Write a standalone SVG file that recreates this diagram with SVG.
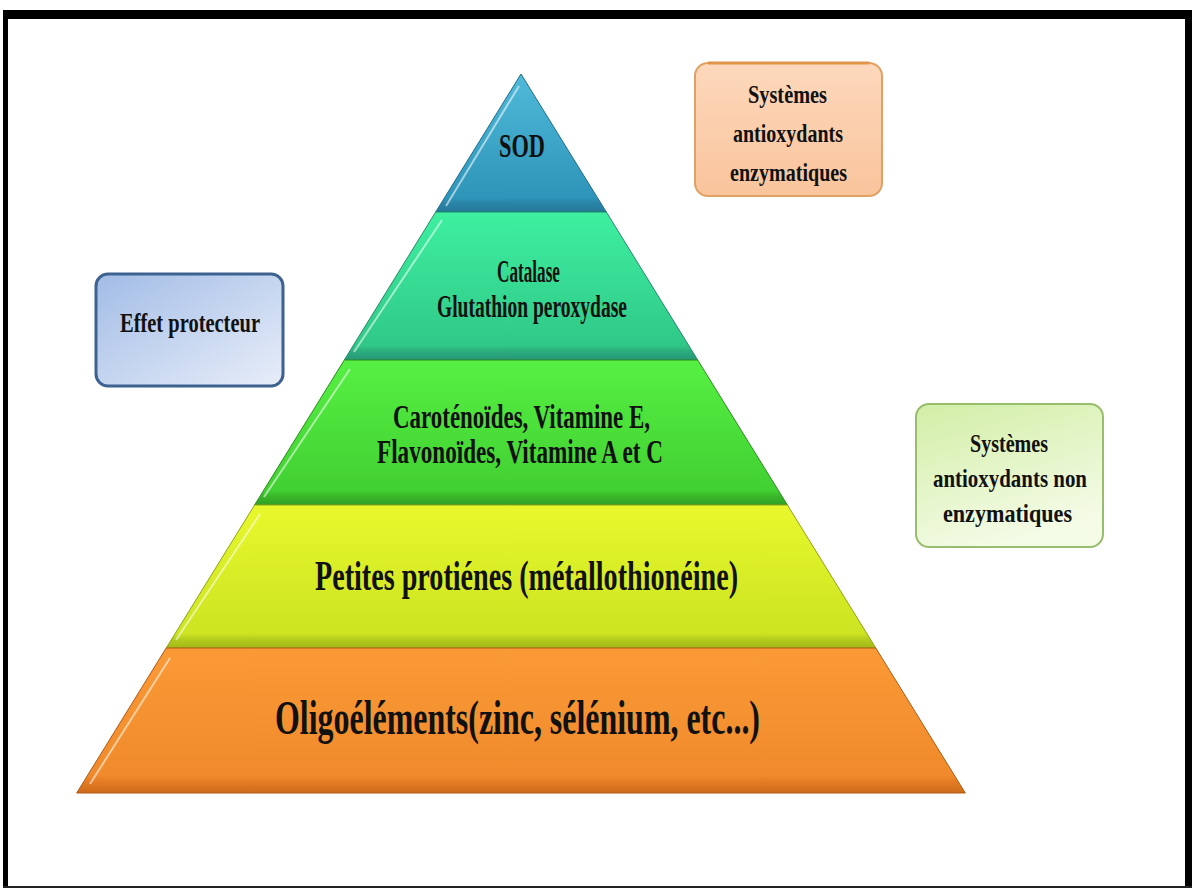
<svg xmlns="http://www.w3.org/2000/svg" width="1192" height="888" viewBox="0 0 1192 888">
  <style>
    .lbl { font-family: "Liberation Serif", "Times New Roman", serif; font-weight: bold; fill: #111; }
    .hl { fill: none; stroke: #ffffff; stroke-opacity: 0.55; stroke-width: 2; }
    .edge { stroke-width: 1; stroke-linejoin: round; }
  </style>
  <defs>
    <linearGradient id="gSod" x1="0" y1="0" x2="0" y2="1">
      <stop offset="0" stop-color="#50bad9"/>
      <stop offset="0.9" stop-color="#2e94b9"/>
      <stop offset="0.93" stop-color="#2a86aa"/>
      <stop offset="1" stop-color="#257898"/>
    </linearGradient>
    <linearGradient id="gCat" x1="0" y1="0" x2="0" y2="1">
      <stop offset="0" stop-color="#3ef0a0"/>
      <stop offset="0.9" stop-color="#30c888"/>
      <stop offset="0.94" stop-color="#2cae7c"/>
      <stop offset="1" stop-color="#27967a"/>
    </linearGradient>
    <linearGradient id="gCar" x1="0" y1="0" x2="0" y2="1">
      <stop offset="0" stop-color="#56f043"/>
      <stop offset="0.9" stop-color="#42d032"/>
      <stop offset="0.94" stop-color="#3ab62a"/>
      <stop offset="1" stop-color="#31a024"/>
    </linearGradient>
    <linearGradient id="gPet" x1="0" y1="0" x2="0" y2="1">
      <stop offset="0" stop-color="#e8f82c"/>
      <stop offset="0.9" stop-color="#cce422"/>
      <stop offset="0.94" stop-color="#b4cc1c"/>
      <stop offset="1" stop-color="#a0b818"/>
    </linearGradient>
    <linearGradient id="gOli" x1="0" y1="0" x2="0" y2="1">
      <stop offset="0" stop-color="#fa9a36"/>
      <stop offset="0.88" stop-color="#f08a2c"/>
      <stop offset="0.93" stop-color="#e17a22"/>
      <stop offset="1" stop-color="#cc6a1a"/>
    </linearGradient>
    <linearGradient id="gOrangeBox" x1="0" y1="0" x2="0" y2="1">
      <stop offset="0" stop-color="#fdd8bc"/>
      <stop offset="1" stop-color="#f9c49c"/>
    </linearGradient>
    <linearGradient id="gBlueBox" x1="0" y1="0" x2="1" y2="1">
      <stop offset="0" stop-color="#a2bce6"/>
      <stop offset="1" stop-color="#e8eef9"/>
    </linearGradient>
    <linearGradient id="gGreenBox" x1="0" y1="0" x2="0.4" y2="1">
      <stop offset="0" stop-color="#d2eea6"/>
      <stop offset="1" stop-color="#f4fbe6"/>
    </linearGradient>
  </defs>

  <!-- page background and frame -->
  <rect x="0" y="0" width="1192" height="888" fill="#ffffff"/>
  <rect x="3" y="10" width="1189" height="9" fill="#000"/>
  <rect x="3" y="10" width="5" height="878" fill="#000"/>
  <rect x="1185" y="10" width="7" height="878" fill="#000"/>
  <rect x="3" y="886" width="1189" height="2" fill="#222"/>

  <!-- pyramid tiers, top to bottom -->
  <g id="tier-sod">
    <polygon points="521,74 606.3,212 435.7,212" fill="url(#gSod)" class="edge" stroke="#1f6f8e"/>
    <polyline points="519,86 446,206" class="hl"/>
    <text class="lbl" x="499" y="157" font-size="34" textLength="46" lengthAdjust="spacingAndGlyphs">SOD</text>
  </g>

  <g id="tier-catalase">
    <polygon points="435.7,212 606.3,212 697.7,360 344.3,360" fill="url(#gCat)" class="edge" stroke="#238a68"/>
    <polyline points="442,220 354,352" class="hl"/>
    <text class="lbl" x="497" y="282" font-size="31" textLength="63" lengthAdjust="spacingAndGlyphs">Catalase</text>
    <text class="lbl" x="437" y="317" font-size="31" textLength="190" lengthAdjust="spacingAndGlyphs">Glutathion peroxydase</text>
  </g>

  <g id="tier-carotenoides">
    <polygon points="344.3,360 697.7,360 787.4,505 254.6,505" fill="url(#gCar)" class="edge" stroke="#2a8e1e"/>
    <polyline points="350,369 264,497" class="hl"/>
    <text class="lbl" x="393" y="428" font-size="34" textLength="257" lengthAdjust="spacingAndGlyphs">Caroténoïdes, Vitamine E,</text>
    <text class="lbl" x="377" y="463" font-size="34" textLength="286" lengthAdjust="spacingAndGlyphs">Flavonoïdes, Vitamine A et C</text>
  </g>

  <g id="tier-proteines">
    <polygon points="254.6,505 787.4,505 875.8,648 166.2,648" fill="url(#gPet)" class="edge" stroke="#8ea414"/>
    <polyline points="260,514 176,640" class="hl"/>
    <text class="lbl" x="315" y="590" font-size="43" textLength="423" lengthAdjust="spacingAndGlyphs">Petites protiénes (métallothionéine)</text>
  </g>

  <g id="tier-oligoelements">
    <polygon points="166.2,648 875.8,648 965.3,793 76.7,793" fill="url(#gOli)" class="edge" stroke="#b05a14"/>
    <polyline points="170,658 90,784" class="hl"/>
    <text class="lbl" x="275" y="734" font-size="49" textLength="485" lengthAdjust="spacingAndGlyphs">Oligoéléments(zinc, sélénium, etc...)</text>
  </g>

  <!-- side labels -->
  <g id="box-enzymatiques">
    <rect x="695" y="63" width="187" height="133" rx="13" fill="url(#gOrangeBox)" stroke="#e0a264" stroke-width="2"/>
    <path d="M708,63 H869" stroke="#e2954a" stroke-width="3" fill="none"/>
    <text class="lbl" x="748" y="103" font-size="26" textLength="79" lengthAdjust="spacingAndGlyphs">Systèmes</text>
    <text class="lbl" x="733" y="142" font-size="26" textLength="110" lengthAdjust="spacingAndGlyphs">antioxydants</text>
    <text class="lbl" x="730" y="181" font-size="26" textLength="117" lengthAdjust="spacingAndGlyphs">enzymatiques</text>
  </g>

  <g id="box-protecteur">
    <rect x="96" y="274" width="187" height="112" rx="12" fill="url(#gBlueBox)" stroke="#3d6290" stroke-width="3"/>
    <text class="lbl" x="120" y="332" font-size="27" textLength="140" lengthAdjust="spacingAndGlyphs">Effet protecteur</text>
  </g>

  <g id="box-non-enzymatiques">
    <rect x="916" y="404" width="187" height="143" rx="13" fill="url(#gGreenBox)" stroke="#98bd6c" stroke-width="2"/>
    <text class="lbl" x="970" y="452" font-size="26" textLength="78" lengthAdjust="spacingAndGlyphs">Systèmes</text>
    <text class="lbl" x="933" y="487" font-size="26" textLength="154" lengthAdjust="spacingAndGlyphs">antioxydants non</text>
    <text class="lbl" x="943" y="522" font-size="26" textLength="129" lengthAdjust="spacingAndGlyphs">enzymatiques</text>
  </g>

  <!-- no connectors in this figure -->
  <g id="connectors"></g>
</svg>
